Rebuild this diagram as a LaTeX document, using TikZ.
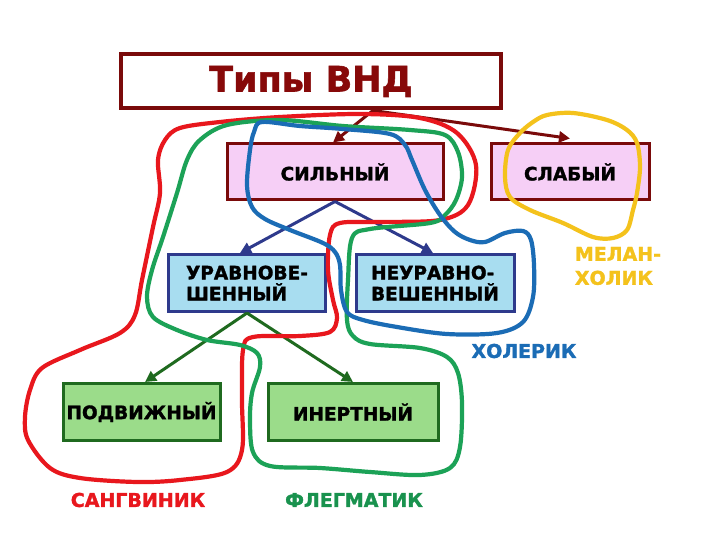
\documentclass[tikz,border=0pt]{standalone}
\usepackage{fontspec}
\setmainfont{DejaVu Sans}[BoldFeatures={FakeBold=1.6}]
\usetikzlibrary{arrows.meta}
\definecolor{vndred}{HTML}{7A0A0A}
\definecolor{pinkfill}{HTML}{F6CFF6}
\definecolor{bluefill}{HTML}{A8DDF0}
\definecolor{navy}{HTML}{2E3A8C}
\definecolor{greenfill}{HTML}{9BDC8A}
\definecolor{dkgreen}{HTML}{1F6A1F}
\definecolor{loopred}{HTML}{E8171D}
\definecolor{loopgreen}{HTML}{1CA257}
\definecolor{loopblue}{HTML}{1B6CB5}
\definecolor{loopgold}{HTML}{F4C21C}

\begin{document}
\begin{tikzpicture}[x=1pt, y=-1pt,
  >={Triangle[length=11pt, width=11pt]},
  box/.style={draw, line width=3pt, inner sep=0pt, minimum height=56pt,
    text=black, font=\fontsize{18.5}{21}\selectfont\bfseries, align=left},
  loop/.style={line width=4.2pt, line join=round},
  tag/.style={font=\fontsize{19}{24}\selectfont\bfseries, align=left}]

% Background
\fill[white] (0,0) rectangle (720,540);

% Title
\node[draw=vndred, line width=4pt, minimum width=380pt, minimum height=54pt,
      text=vndred!90!red, font=\fontsize{35}{40}\selectfont\bfseries]
  (title) at (311,81.5) {Типы ВНД};

% Boxes
\node[box, draw=vndred, fill=pinkfill, minimum width=216pt] (strong) at (335,172) {СИЛЬНЫЙ};
\node[box, draw=vndred, fill=pinkfill, minimum width=158pt] (weak) at (570,172) {СЛАБЫЙ};
\node[box, draw=navy, fill=bluefill, minimum width=157pt, minimum height=57pt]
  (balanced) at (247,283) {УРАВНОВЕ-\\ШЕННЫЙ};
\node[box, draw=navy, fill=bluefill, minimum width=158pt, minimum height=57pt]
  (unbalanced) at (435,283) {НЕУРАВНО-\\ВЕШЕННЫЙ};
\node[box, draw=dkgreen, fill=greenfill, minimum width=157pt, minimum height=57pt]
  (mobile) at (141.5,412) {ПОДВИЖНЫЙ};
\node[box, draw=dkgreen, fill=greenfill, minimum width=170pt, minimum height=57pt]
  (inert) at (353,412) {ИНЕРТНЫЙ};

% Arrows
\draw[vndred, line width=3pt, ->] ([xshift=62pt]title.south) -- ([xshift=-2pt]strong.north);
\draw[vndred, line width=3pt, ->] ([xshift=62pt]title.south) -- ([yshift=4pt]weak.north);
\draw[navy, line width=3pt, ->] (strong.south) -- ([xshift=-7pt]balanced.north);
\draw[navy, line width=3pt, ->] (strong.south) -- ([xshift=-2pt]unbalanced.north);
\draw[dkgreen, line width=3pt, ->] (balanced.south) -- ([xshift=3.5pt]mobile.north);
\draw[dkgreen, line width=3pt, ->] (balanced.south) -- (inert.north);

% Sanguine loop
\draw[loop, loopred] plot[smooth cycle, tension=0.55] coordinates {
  (280,117) (360,114) (420,118) (457,133) (476,165) (468,205) (440,220)
  (380,222) (340,223) (330,235) (328,270) (333,300) (337,318) (330,332)
  (300,336) (253,337) (243,350) (242,400) (242,450) (227,472) (180,480)
  (137,482) (80,478) (50,468) (28,440) (25,417) (30,390) (42,368)
  (80,350) (120,333) (135,315) (142,280) (153,227) (160,193) (158,160)
  (165,140) (180,128) (220,122)};

% Phlegmatic loop
\draw[loop, loopgreen] plot[smooth cycle, tension=0.55] coordinates {
  (280,120) (343,126) (410,130) (445,135) (458,152) (462,177) (456,200)
  (445,215) (430,223) (370,229) (352,238) (348,280) (347,320) (353,336)
  (370,344) (420,348) (447,357) (458,373) (462,403) (460,447) (450,468)
  (420,475) (370,472) (320,468) (270,466) (253,452) (250,420) (252,393)
  (260,367) (257,353) (240,345) (207,340) (177,330) (153,317) (147,297)
  (152,270) (163,237) (177,193) (187,160) (200,140) (227,125)};

% Choleric loop
\draw[loop, loopblue] plot[smooth cycle, tension=0.55] coordinates {
  (262,122) (300,126) (343,129) (390,134) (405,145) (412,160) (425,190)
  (440,215) (455,232) (470,240) (485,242) (505,233) (523,231) (531,240)
  (534,265) (533,297) (523,322) (497,333) (447,334) (397,327) (363,320)
  (347,312) (341,290) (340,265) (335,252) (323,243) (290,230) (265,219)
  (252,207) (247,185) (250,150) (254,132)};

% Melancholic loop
\draw[loop, loopgold] plot[smooth cycle, tension=0.55] coordinates {
  (547,115) (573,113) (607,120) (627,130) (637,143) (640,167) (637,193)
  (633,210) (627,230) (613,238) (593,237) (563,223) (530,210) (510,197)
  (505,177) (508,150) (520,133) (533,122)};

% Temperaments
\node[tag, text=loopred] (sang) at (138,500) {САНГВИНИК};
\node[tag, text=loopgreen!90!black] (phleg) at (354,500) {ФЛЕГМАТИК};
\node[tag, text=loopblue] (chol) at (524,351) {ХОЛЕРИК};
\node[tag, text=loopgold] (melan) at (618,266) {МЕЛАН-\\ХОЛИК};

\end{tikzpicture}
\end{document}
